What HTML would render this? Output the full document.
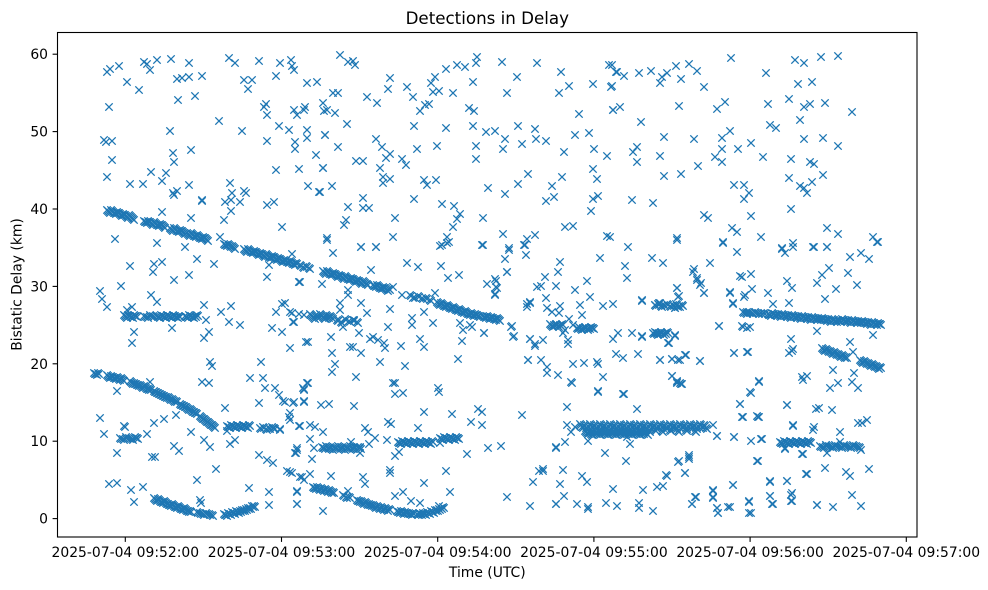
<!DOCTYPE html>
<html><head><meta charset="utf-8"><style>
html,body{margin:0;padding:0;background:#fff;}
svg{display:block;font-family:"DejaVu Sans","Liberation Sans",sans-serif;}
</style></head><body>
<svg width="988" height="590" viewBox="0 0 988 590" xmlns="http://www.w3.org/2000/svg" xmlns:xlink="http://www.w3.org/1999/xlink">
<rect x="0" y="0" width="988" height="590" fill="#fff"/>
<defs>
<marker id="m" markerUnits="userSpaceOnUse" markerWidth="10" markerHeight="10" refX="5" refY="5" orient="0" overflow="visible">
<path d="M1.3 1.3L8.7 8.7M1.3 8.7L8.7 1.3" stroke="#1f77b4" stroke-width="1.3" fill="none"/>
</marker>
</defs>
<g fill="none" stroke="none" marker-start="url(#m)" marker-mid="url(#m)" marker-end="url(#m)">
<g id="tracks">
<path d="M107,210 109,212 111,210 113,212 115,213 117,212 119,213 121,215 123,214 125,215 127,217 129,215 131,217 133,219 144,221 146,222 148,221 150,222 152,224 154,222 156,224 158,225 160,224 162,225 164,227 170,228 172,230 174,228 176,230 178,231 180,230 182,231 184,233 187,233 189,235 191,233 193,235 195,236 197,235 199,237 201,238 203,237 205,238 207,240 224,244 226,245 228,244 230,246 232,246 234,248 244,249 246,251 248,249 250,251 252,252 254,251 256,252 258,254 260,253 262,254 264,256 266,254 268,256 270,257 272,256 274,257 276,259 278,258 280,259 282,261 284,260 286,261 288,262 290,261 292,263 294,264 296,263 300,265 303,267 306,266 309,268 323,271 325,273 327,271 329,273 331,274 333,273 335,274 337,276 339,275 341,276 343,278 345,276 347,278 349,279 351,278 353,279 355,281 357,280 359,281 361,283 363,281 365,283 367,284 373,285 375,286 377,285 379,287 381,288 383,287 385,288 387,290 389,289 410,295 414,297 418,296 422,298 426,298 430,300 437,302 439,304 441,303 443,305 445,306 447,305 449,307 451,308 453,307 455,309 457,310 459,309 461,311 463,312 465,311 467,313 469,314 471,313 473,315 475,314 477,315 479,316 483,316 485,317 487,316 489,318 491,317 493,318 495,319 497,318 499,320"/>
<path d="M124,315 126,317 128,315 130,316 132,317 134,315 136,316 144,316 147,317 150,315 153,316 157,316 159,317 161,315 163,316 165,317 167,315 169,316 171,317 173,315 175,316 177,317 179,316 185,316 187,317 189,315 191,316 193,317 195,316 197,315 310,314 312,316 314,318 316,315 318,317 320,314 322,316 324,318 326,315 328,317 330,316 332,318 337,320 341,322 345,319 349,321 353,320 357,322"/>
<path d="M94,373 96,374 98,373 107,375 109,377 111,376 113,377 115,378 117,377 119,379 121,378 123,380 130,381 132,383 134,383 136,384 138,385 140,385 142,387 144,386 146,388 148,389 150,389 154,391 156,392 158,393 160,394 162,395 164,396 166,397 168,397 170,399 172,399 174,401 176,401 180,404 182,405 184,406 186,407 188,409 190,409 192,411 194,412 196,413 200,416 202,418 204,419 206,421 208,422 210,424 212,425 214,427"/>
<path d="M154,498 156,500 158,499 160,501 162,502 164,501 166,503 168,504 170,505 172,504 174,506 176,507 178,506 180,508 182,509 184,508 186,510 188,511 190,511 197,512 200,513 203,514 206,513 209,514 212,515 224,514 226,515 228,513 230,514 232,512 234,513 236,511 238,512 240,511 242,510 244,510 246,509 248,508 250,508 252,506 254,506"/>
<path d="M313,487 315,488 317,487 319,489 321,488 323,490 325,489 327,491 329,490 331,492 333,492 343,495 346,497 349,497 357,500 359,501 361,501 363,503 365,502 367,504 369,504 371,505 373,505 375,507 377,506 379,508 381,507 383,509 385,508 387,510 389,509 397,511 399,512 401,511 403,513 405,512 407,513 409,513 411,514 413,513 417,514 419,513 421,514 423,513 425,514 427,512 429,513 431,511 433,512 435,510 437,510 439,509 441,508 443,507"/>
<path d="M227,426 229,427 231,425 233,426 235,427 237,425 239,426 241,427 243,425 245,426 247,427 249,425 260,428 263,427 266,429 269,428 272,427 274,428 120,438 123,439 126,437 129,438 132,439 135,437 137,438 322,447 324,448 326,446 328,448 330,447 332,449 334,447 336,448 338,446 340,448 342,447 344,449 346,447 348,448 350,446 352,448 354,447 356,449 358,447 360,448 398,442 400,443 402,441 404,442 406,443 408,441 410,442 412,443 414,441 416,442 418,443 420,441 422,442 424,443 426,441 428,442 430,443 432,441 440,438 442,439 444,437 446,438 448,439 450,437 452,438 454,439 456,437 458,438"/>
<path d="M580,424 582,427 584,425 586,428 588,426 590,424 592,427 594,425 596,428 598,426 600,424 602,427 604,425 606,428 608,426 610,424 612,427 614,425 616,428 618,426 620,424 622,427 624,425 626,428 628,426 630,424 632,427 634,425 636,428 638,426 640,424 642,427 644,425 646,428 648,426 650,424 652,427 654,425 656,428 658,426 660,424 662,427 664,425 666,428 668,426 670,424 672,427 674,425 676,428 678,426 680,424 682,427 684,425 686,428 688,426 690,424 692,427 694,425 696,428 698,426 700,424 702,427 704,425 706,428 585,431 587,433 589,432 591,434 593,431 595,433 597,432 599,434 601,431 603,433 605,432 607,434 609,431 611,433 613,432 615,434 617,431 619,433 621,432 623,434 625,431 627,433 629,432 631,434 633,431 635,433 637,432 639,434 641,431 643,433 645,432 647,434 649,431 655,430 662,431 670,430 678,431 686,430 695,431"/>
<path d="M780,442 782,443 784,441 786,442 788,443 790,441 792,442 794,443 796,441 798,442 800,443 802,441 804,442 806,443 808,441 810,442 820,446 823,447 826,445 829,446 832,447 835,445 838,446 841,447 844,445 847,446 850,447 853,445 856,446 859,447"/>
<path d="M743,312 746,313 749,312 752,313 755,312 758,313 761,313 764,313 768,314 770,315 772,313 774,314 776,315 778,314 780,316 782,314 784,315 786,316 788,315 790,317 792,315 794,316 796,317 798,316 800,318 802,316 804,317 806,318 808,317 810,319 812,317 814,318 816,319 818,318 820,319 822,318 824,319 826,320 828,319 830,321 832,319 834,320 836,321 838,320 840,321 842,319 844,320 846,321 848,320 850,322 852,320 854,321 856,322 858,321 860,322 862,321 864,322 866,323 868,322 870,324 872,322 874,323 876,324 878,323 880,324 822,348 824,350 826,349 828,351 830,351 832,353 834,352 836,354 838,354 840,356 842,355 844,357 846,357 860,360 862,362 864,361 866,363 868,363 870,365 872,364 874,366 876,366 878,368 880,367"/>
<path d="M550,324 552,326 554,325 556,324 558,326 560,325 562,324 577,328 579,327 581,329 583,328 585,327 587,329 589,328 591,327 593,328 653,333 655,332 657,334 659,333 661,332 663,334 665,333 667,332 655,305 658,304 661,306 664,305 667,304 670,306 673,305 676,304 679,306 682,305"/>
</g>
<use xlink:href="#tracks" href="#tracks" transform="translate(1,1)"/>
<path d="M107,72 110,69 119,66 127,82 139,90 144,62 147,64 150,70 157,60 171,59 109,107 104,140 106,142 112,141 112,160 107,177 130,184 143,184 151,172 162,181 166,173 173,193 177,191 170,131 173,153 174,162 178,100 177,79 182,78 189,77 189,63 195,96 202,76 191,150 189,185 202,200 219,121 229,58 235,63 242,131 244,80 248,89 252,80 259,61 264,107 266,104 267,115 267,141 276,76 280,63 279,126 289,130 291,60 292,66 294,70 294,110 295,142 295,149 299,169 276,170 297,115 304,110 305,107 307,83 317,82 307,130 307,138 316,155 323,103 324,111 323,168 325,135 308,186 319,192 230,183 232,193 244,191 246,193 231,200"/>
<path d="M340,55 348,62 353,61 355,65 390,78 388,89 407,87 413,97 333,93 338,93 367,97 377,103 327,110 335,113 347,124 325,135 338,147 376,139 382,147 390,154 386,158 380,168 383,177 383,183 390,179 402,159 406,165 356,161 363,161 323,168 332,186 320,192 414,126 417,149 437,146 420,111 425,105 429,104 431,83 435,77 433,92 439,91 446,69 453,93 457,65 465,67 477,57 476,63 473,82 469,108 474,111 446,128 473,126 476,146 476,159 486,132 495,131 505,139 503,149 518,126 522,144 535,129 536,139 546,141 502,62 517,77 507,93 537,63 561,72 559,93 569,86 593,84 609,65 616,72 611,87 579,114 613,110 575,135 589,133 594,149 564,152 607,156 593,169 597,179 562,177 552,186 528,174 518,184 488,188 505,194 546,201 554,197 593,199 598,196 591,211 424,180 427,185 436,180 414,199 442,204 454,206 460,214 457,219 453,227 483,218 363,198 363,208 369,208 348,207 346,220 344,225 395,218 327,238 393,237 442,245 447,237 449,242 361,247 376,247 483,245 503,234 509,248 527,239 524,245 535,235 565,227 573,226 607,236 560,262 600,258 625,266"/>
<path d="M612,65 617,72 624,76 639,73 651,71 662,77 660,83 667,73 676,66 689,64 697,71 681,79 704,87 731,58 766,73 795,60 804,63 821,57 838,56 798,84 812,82 612,86 613,110 620,107 679,106 717,109 725,102 768,104 789,99 804,107 810,104 825,103 852,112 800,120 770,125 776,128 641,122 664,137 694,139 722,138 730,131 751,143 738,149 722,149 715,157 722,162 637,147 633,152 637,162 660,156 698,166 763,157 791,159 810,162 814,164 804,139 823,138 838,146 664,176 681,174 734,185 744,185 749,193 744,199 789,178 800,186 807,193 812,182 823,175 804,188 632,200 653,203 704,215 708,218 751,216 791,209 732,228 737,232 761,237 723,242 677,238 628,247 827,228 838,234 873,237 878,242 793,243 782,248 814,247 827,247 610,237"/>
<path d="M174,195 202,201 225,202 240,202 267,205 274,202 162,212 191,218 231,211 224,220 282,227 115,239 157,243 185,247 220,237 197,259 214,264 130,266 154,264 162,262 153,272 189,275 174,280 267,277 292,254 299,282 100,291 102,299 107,307 121,286 151,295 157,302 127,310 132,307 204,305 221,312 231,306 206,320 172,328 134,332 229,322 240,325 209,332 204,338 132,343 276,312 282,304 285,303 292,313 294,322 272,328 282,332 304,315 306,342 269,265 300,282"/>
<path d="M327,240 361,247 376,247 333,253 440,246 447,243 482,245 509,250 525,245 526,255 505,259 507,272 407,263 418,267 441,266 371,270 448,278 459,275 299,282 322,284 487,284 496,281 497,288 495,295 537,287 348,290 348,295 393,287 402,295 413,298 435,293 361,303 340,303 340,310 390,309 367,313 424,312 527,304 530,302 290,312 299,314 293,322 339,320 343,327 354,320 412,318 412,325 433,323 460,323 463,330 472,327 484,333 511,327 514,336 359,333 388,327 370,339 373,337 378,340 384,343 385,348 331,337 308,342 290,348 350,347 353,347 361,353 401,346 420,339 424,347 462,341 530,339 535,344 332,353 380,362 335,364 405,366 458,359 528,360 332,372 356,377 308,383 393,383 303,388 438,388"/>
<path d="M495,279 496,287 495,294 507,272 545,277 558,272 541,286 556,286 575,290 587,281 590,297 546,298 527,307 530,303 547,308 560,306 552,312 559,313 580,305 582,315 569,319 573,325 565,330 603,306 613,304 627,278 642,300 659,303 677,288 679,296 675,308 693,272 697,280 700,285 704,293 730,293 733,303 740,276 745,295 747,312 719,326 743,327 484,333 512,326 513,337 470,325 530,339 535,346 543,340 563,333 568,340 568,344 618,333 613,339 632,333 642,337 669,343 675,335 528,360 541,360 547,367 547,373 558,375 573,364 584,363 597,362 598,364 603,377 571,382 598,391 623,394 616,354 623,358 638,354 660,360 672,359 680,360 685,355 700,361 672,376 677,381 680,383 734,353 747,352 750,392"/>
<path d="M677,240 723,243 737,252 652,258 663,263 710,263 694,269 697,278 701,283 704,293 677,288 678,297 730,292 733,304 744,297 752,289 742,277 751,274 768,293 773,304 789,303 787,281 792,288 782,249 793,247 785,253 813,247 827,247 850,257 861,253 869,259 877,242 822,275 829,268 848,273 817,283 836,289 857,285 825,299 655,305 660,303 678,307 682,305 675,308 642,301 719,326 742,326 747,328 750,327 817,331 642,336 657,333 660,334 675,336 668,343 791,339 792,351 789,353 793,349 734,353 748,352 850,342 853,352 873,335 660,360 672,359 678,360 686,355 700,361 833,370 854,373 672,376 677,382 682,384 759,381 802,377 807,376 838,383 852,382 858,388 830,388"/>
<path d="M117,391 150,382 100,418 104,434 124,426 117,453 147,434 154,423 164,419 152,457 155,457 174,446 179,451 191,432 204,440 210,447 202,382 209,383 210,362 212,366 176,415 225,408 230,444 235,440 216,469 250,378 263,378 265,388 261,362 259,403 275,388 279,395 285,402 294,402 304,402 304,390 290,413 290,420 299,426 280,429 297,450 296,453 259,455 267,460 273,463 290,472 302,477 109,484 117,483 131,490 143,487 134,502 197,480 200,500 201,503 249,488 269,492 269,505 297,492 297,504 227,431 125,427"/>
<path d="M307,383 304,389 395,383 395,394 403,393 439,392 283,401 293,403 304,401 321,405 329,404 354,406 424,412 452,414 478,409 482,412 522,415 471,422 482,425 289,417 300,426 310,425 315,427 323,432 280,430 365,428 368,432 388,422 391,424 418,428 310,439 314,448 297,448 295,453 312,459 351,442 360,447 369,444 375,438 387,440 360,453 395,456 399,452 440,443 467,454 488,448 501,446 556,448 287,471 292,473 300,477 304,480 310,474 331,476 363,477 365,484 390,470 390,473 424,483 446,471 450,492 297,491 297,504 323,511 348,491 395,496 403,492 411,501 420,503 439,506 507,497 530,506 539,471 543,469 533,482 556,504"/>
<path d="M572,383 598,392 624,394 677,383 681,384 759,382 803,380 751,393 567,407 637,409 740,404 787,405 742,417 758,417 757,416 816,409 793,425 813,430 567,425 571,432 575,427 713,425 717,436 734,437 751,441 761,439 565,442 556,447 588,441 627,437 630,444 605,453 626,461 679,461 689,455 689,459 685,473 757,461 785,449 802,454 806,474 543,471 563,470 582,476 587,482 560,484 564,496 556,504 577,504 588,507 588,509 606,503 617,506 613,489 643,490 639,503 639,508 653,511 657,487 663,486 667,476 692,504 695,497 713,490 713,498 717,508 718,513 728,507 733,485 749,501 749,513 770,482 770,496 772,504 787,481 792,493 792,501 817,505"/>
<path d="M740,404 787,405 819,408 832,410 743,417 759,417 793,426 814,427 840,432 858,423 862,423 867,420 717,436 734,437 762,439 806,443 785,448 803,454 826,445 827,453 840,442 861,450 689,457 678,462 758,461 825,468 807,474 846,472 850,476 869,469 666,475 685,473 733,485 770,481 787,481 713,491 713,497 696,497 692,504 717,508 718,513 730,507 749,502 751,513 770,496 773,504 791,495 791,501 817,505 833,507 852,495 861,506"/>
</g>
<rect x="57.5" y="32.5" width="859.5" height="504.5" fill="none" stroke="#000" stroke-width="1.1"/>
<g stroke="#000" stroke-width="1.1">
<line x1="52.6" y1="518.6" x2="57.5" y2="518.6"/>
<line x1="52.6" y1="441.2" x2="57.5" y2="441.2"/>
<line x1="52.6" y1="363.8" x2="57.5" y2="363.8"/>
<line x1="52.6" y1="286.4" x2="57.5" y2="286.4"/>
<line x1="52.6" y1="209.0" x2="57.5" y2="209.0"/>
<line x1="52.6" y1="131.6" x2="57.5" y2="131.6"/>
<line x1="52.6" y1="54.2" x2="57.5" y2="54.2"/>
<line x1="125.3" y1="537" x2="125.3" y2="541.9"/>
<line x1="281.5" y1="537" x2="281.5" y2="541.9"/>
<line x1="437.7" y1="537" x2="437.7" y2="541.9"/>
<line x1="593.9" y1="537" x2="593.9" y2="541.9"/>
<line x1="750.1" y1="537" x2="750.1" y2="541.9"/>
<line x1="906.3" y1="537" x2="906.3" y2="541.9"/>
</g>
<g font-size="13.9" fill="#000" text-anchor="end">
<text x="48" y="523.6">0</text>
<text x="48" y="446.2">10</text>
<text x="48" y="368.8">20</text>
<text x="48" y="291.4">30</text>
<text x="48" y="214.0">40</text>
<text x="48" y="136.6">50</text>
<text x="48" y="59.2">60</text>
</g>
<g font-size="13.9" fill="#000" text-anchor="middle">
<text x="125.3" y="557.2">2025-07-04 09:52:00</text>
<text x="281.5" y="557.2">2025-07-04 09:53:00</text>
<text x="437.7" y="557.2">2025-07-04 09:54:00</text>
<text x="593.9" y="557.2">2025-07-04 09:55:00</text>
<text x="750.1" y="557.2">2025-07-04 09:56:00</text>
<text x="906.3" y="557.2">2025-07-04 09:57:00</text>
<text x="487.3" y="577">Time (UTC)</text>
<text transform="translate(21.5,284.5) rotate(-90)" x="0" y="0">Bistatic Delay (km)</text>
</g>
<text x="487.3" y="24" font-size="16.7" text-anchor="middle" fill="#000">Detections in Delay</text>
</svg>
</body></html>
